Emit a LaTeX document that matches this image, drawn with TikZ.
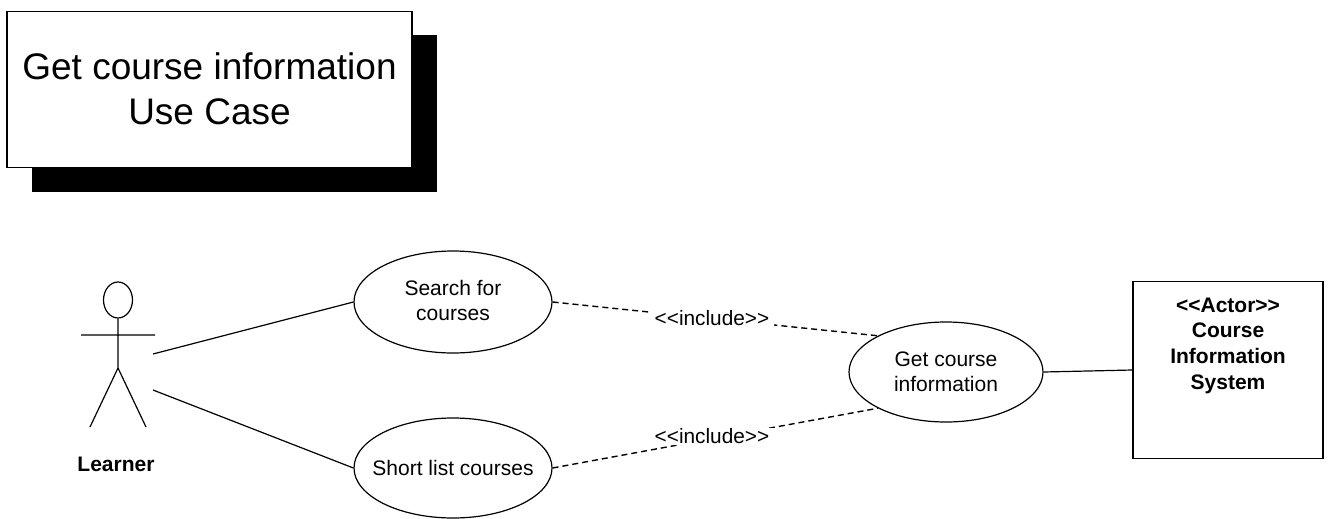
\documentclass[tikz,border=0pt]{standalone}
\usepackage{fontspec}
\usetikzlibrary{shapes.geometric}
\setmainfont{Liberation Sans}
\begin{document}
\begin{tikzpicture}[x=1pt,y=-1pt,
  line/.style={draw=black,line width=1.2pt},
  uc/.style={ellipse,draw=black,line width=1.2pt,fill=white,inner sep=-30pt,align=center,font=\fontsize{21}{25}\selectfont},
  dep/.style={draw=black,line width=1.4pt,dash pattern=on 6pt off 4pt},
  lbl/.style={font=\fontsize{20.8}{25}\selectfont,inner ysep=1pt,inner xsep=5pt,fill=white},
  bld/.style={font=\fontsize{21}{25.8}\selectfont\bfseries,align=center,inner sep=0pt}]
\useasboundingbox (0,0) rectangle (1330,519);
\path[fill=white] (0,0) rectangle (1330,519);
\node[minimum width=405pt,minimum height=156pt,fill=black,inner sep=0pt] (shadow) at (234.5,113.5) {};
\node[minimum width=405pt,minimum height=156pt,draw=black,line width=1.2pt,fill=white,inner sep=0pt,align=center,font=\fontsize{37}{45}\selectfont] (title) at (209.5,89.5) {\raisebox{1.5pt}{Get course information}\\\raisebox{1.5pt}{Use Case}};
% actor
\node[ellipse,draw=black,line width=1.2pt,minimum width=29pt,minimum height=36pt,inner sep=0pt] (head) at (118,300) {};
\coordinate (hip) at (118,368);
\coordinate (armL) at (81,335);
\coordinate (armR) at (155,335);
\coordinate (footL) at (90,427);
\coordinate (footR) at (146,427);
\draw[line] (head.south) -- (hip) -- (footL) (hip) -- (footR) (armL) -- (armR);
\coordinate (actorA) at (153,354);
\coordinate (actorB) at (153,390);
\node[bld] (learner) at (116,464) {Learner};
\node[uc,minimum width=198pt,minimum height=102pt] (search) at (453,302) {\raisebox{3pt}{Search for}\\\raisebox{3pt}{courses}};
\node[uc,minimum width=198pt,minimum height=100pt] (short) at (453,468) {Short list courses};
\node[uc,minimum width=194pt,minimum height=100pt] (get) at (946,372) {\raisebox{-2pt}{Get course}\\\raisebox{-2pt}{information}};
\node[draw=black,line width=1.2pt,minimum width=190pt,minimum height=177pt,inner sep=0pt] (sys) at (1228,370) {};
\node[bld,anchor=north] (systext) at (1228,297.5) {<{}<Actor>{}>\\Course\\Information\\System};
\draw[line] (actorA) -- (search.west);
\draw[line] (actorB) -- (short.west);
\draw[line] (get.east) -- (sys.west);
\draw[dep] (search.east) -- node[lbl,pos=0.49] (i1) {<{}<include>{}>} (get.152);
\draw[dep] (short.east) -- node[lbl,pos=0.49,yshift=2.5pt] (i2) {<{}<include>{}>} (get.208);
\end{tikzpicture}
\end{document}
